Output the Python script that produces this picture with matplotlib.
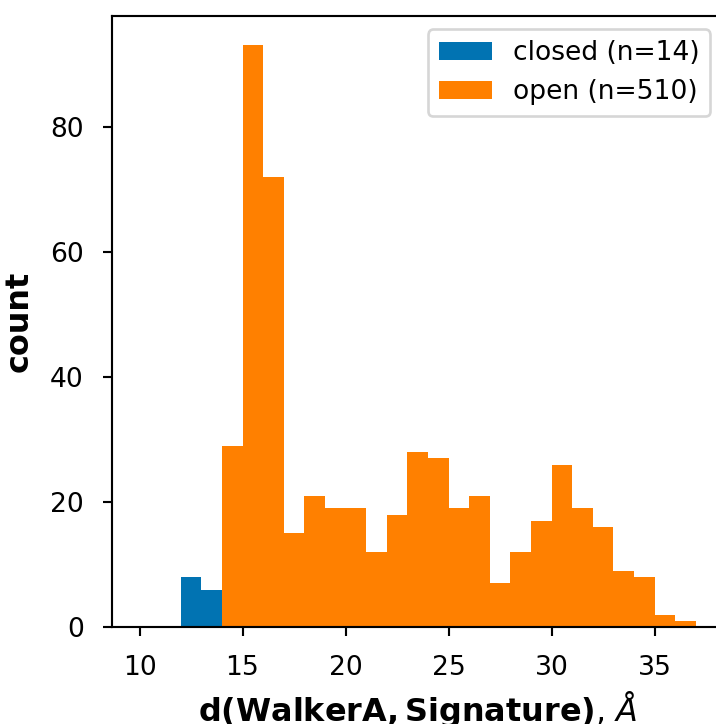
import numpy as np
import matplotlib
matplotlib.use("Agg")
import matplotlib.pyplot as plt

# histogram bins (Å), width 1
closed_edges = [12, 13]
closed_counts = [8, 6]

open_edges = list(range(14, 37))
open_counts = [29, 93, 72, 15, 21, 19, 19, 12, 18, 28, 27, 19, 21,
               7, 12, 17, 26, 19, 16, 9, 8, 2, 1]

labels = ["closed (n=14)", "open (n=510)"]
colors = ["#0173b2", "#ff8000"]

DPI = 191
fig = plt.figure(figsize=(716 / DPI, 724 / DPI), dpi=DPI)
ax = fig.add_axes([0.156, 0.1336, 0.8545, 0.844])

ax.bar(closed_edges, closed_counts, width=1.0, align="edge",
       color=colors[0], label=labels[0])
ax.bar(open_edges, open_counts, width=1.0, align="edge",
       color=colors[1], label=labels[1])

ax.set_xlim(8.65, 38.35)
ax.set_xticks([10, 15, 20, 25, 30, 35])
ax.set_yticks([0, 20, 40, 60, 80])
ax.tick_params(pad=7)
ax.set_xlabel(r"$\bf{d(WalkerA, Signature)}$, $\AA$", fontsize=12, labelpad=2.8)
ax.set_ylabel("count", fontsize=12, fontweight="bold", labelpad=6)
ax.legend(loc="upper right")

fig.savefig("out.png", dpi=DPI)
